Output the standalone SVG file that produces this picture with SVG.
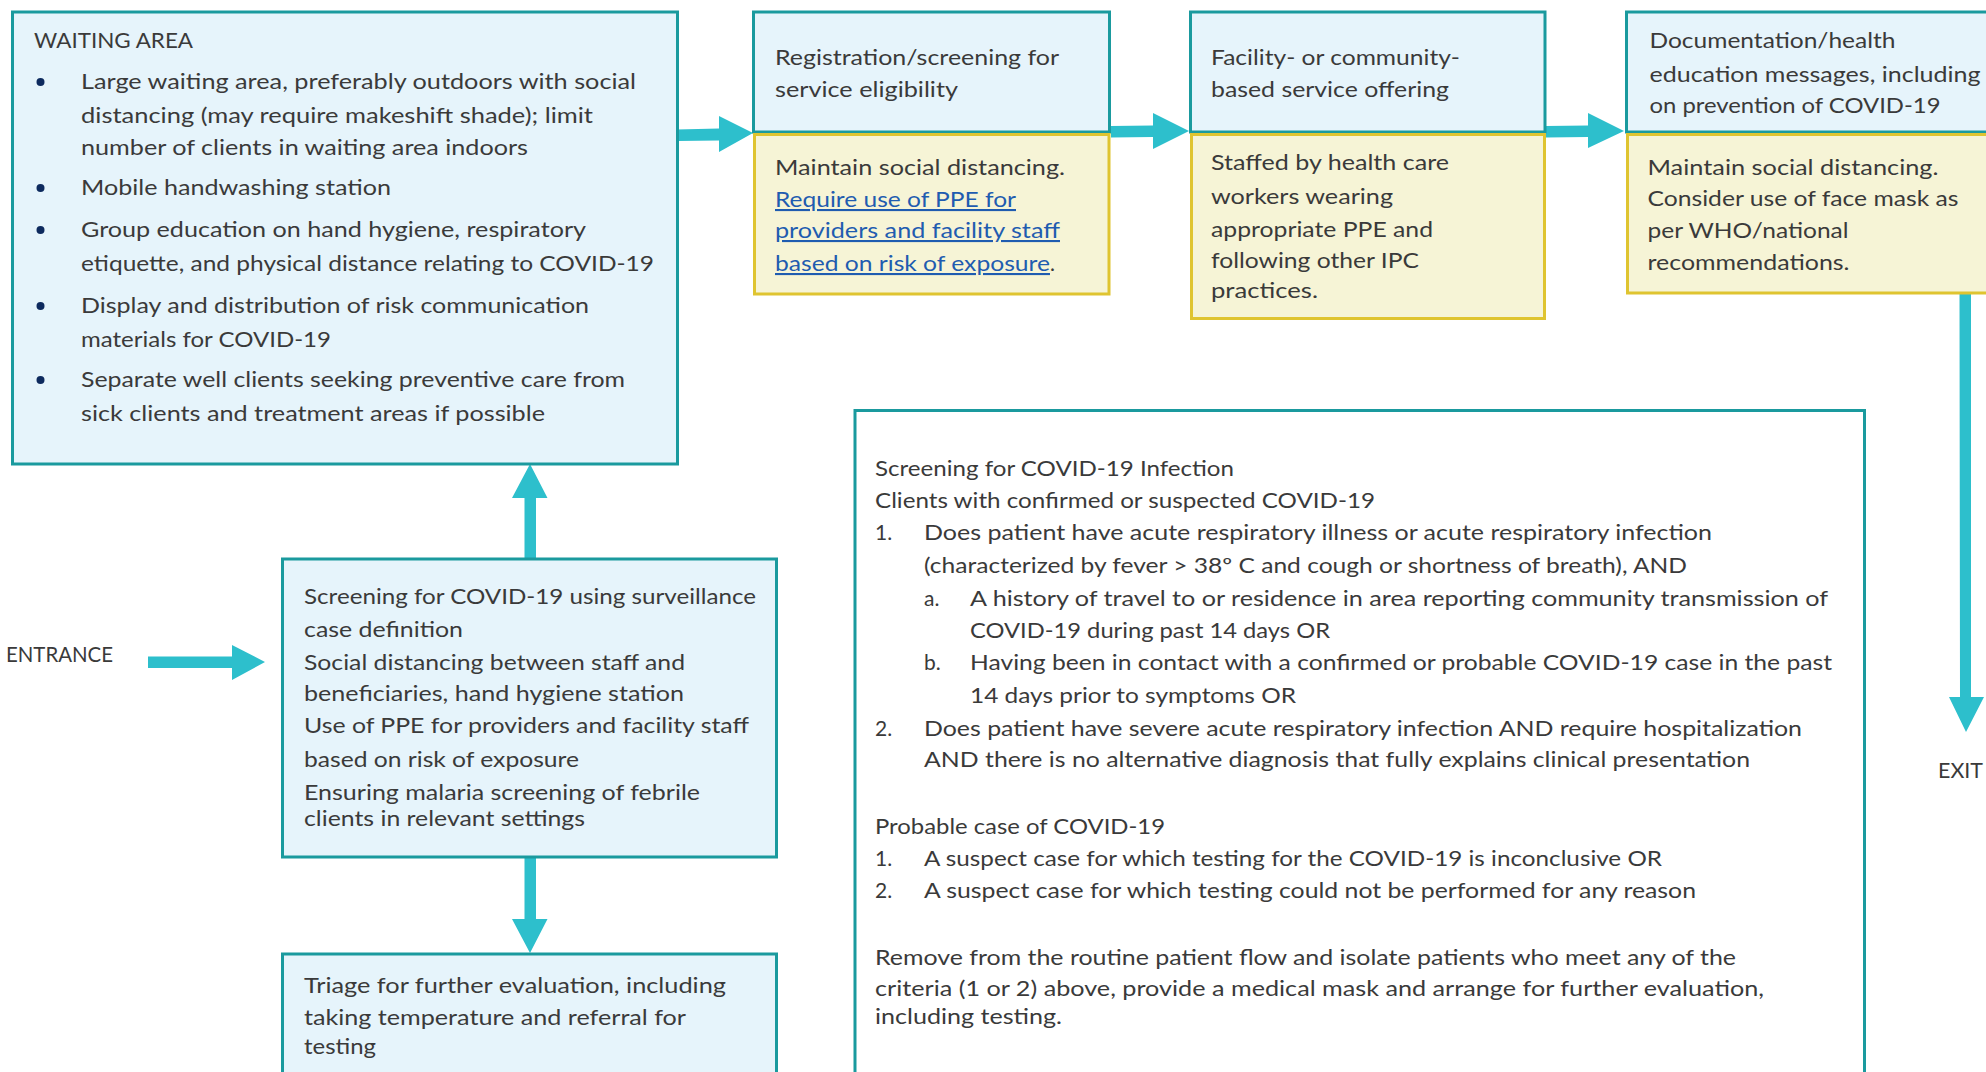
<svg xmlns="http://www.w3.org/2000/svg" width="1986" height="1072" viewBox="0 0 1986 1072">
<style>
.t{font-family:Lato,"Open Sans","Liberation Sans",sans-serif;font-size:21px;fill:#3a3a3a}
.lk{fill:#1f5cb0;text-decoration:underline}
.box{fill:#e6f4fb;stroke:#1a9a9e;stroke-width:3}
.wbox{fill:#ffffff;stroke:#1a9a9e;stroke-width:3}
.ybox{fill:#f6f4d6;stroke:#dfc430;stroke-width:3}
.arr{fill:#2dbfcc}
.bul{fill:#0d2a5e}
</style>
<rect width="1986" height="1072" fill="#ffffff"/>

<g id="connectors">
<polygon class="arr" points="677,129.5 719,128.5 719,116 753,133 719,152 719,140.5 677,141"/>
<polygon class="arr" points="1111,126 1153,125.5 1153,113 1189,131 1153,149 1153,137 1111,137.5"/>
<polygon class="arr" points="1546,126 1588,125.5 1588,113 1624,131 1588,148 1588,137 1546,137.5"/>
<polygon class="arr" points="1959.5,294 1971,294 1971,697 1984,697 1966,732 1949,697 1960,697"/>
<polygon class="arr" points="148,656.5 232,656.5 232,645 265,662 232,680 232,668 148,668"/>
<polygon class="arr" points="524.5,558 524.5,498 512,498 530,464 547.5,498 536,498 536,558"/>
<polygon class="arr" points="524.5,857 524.5,919 512,919 530,953 547.5,919 536,919 536,857"/>
</g>

<g id="waiting-area">
<rect class="box" x="12.5" y="12" width="665" height="452"/>
<text class="t" x="34" y="48" textLength="159" lengthAdjust="spacingAndGlyphs">WAITING AREA</text>
<circle class="bul" cx="40.5" cy="82" r="4"/>
<circle class="bul" cx="40.5" cy="188" r="4"/>
<circle class="bul" cx="40.5" cy="230" r="4"/>
<circle class="bul" cx="40.5" cy="306" r="4"/>
<circle class="bul" cx="40.5" cy="380" r="4"/>
<text class="t" x="81" y="89" textLength="555" lengthAdjust="spacingAndGlyphs">Large waiting area, preferably outdoors with social</text>
<text class="t" x="81" y="123" textLength="512" lengthAdjust="spacingAndGlyphs">distancing (may require makeshift shade); limit</text>
<text class="t" x="81" y="155" textLength="447" lengthAdjust="spacingAndGlyphs">number of clients in waiting area indoors</text>
<text class="t" x="81" y="195" textLength="310" lengthAdjust="spacingAndGlyphs">Mobile handwashing station</text>
<text class="t" x="81" y="237" textLength="505" lengthAdjust="spacingAndGlyphs">Group education on hand hygiene, respiratory</text>
<text class="t" x="81" y="271" textLength="573" lengthAdjust="spacingAndGlyphs">etiquette,  and physical distance relating to COVID-19</text>
<text class="t" x="81" y="313" textLength="508" lengthAdjust="spacingAndGlyphs">Display and distribution of risk communication</text>
<text class="t" x="81" y="347" textLength="250" lengthAdjust="spacingAndGlyphs">materials for COVID-19</text>
<text class="t" x="81" y="387" textLength="544" lengthAdjust="spacingAndGlyphs">Separate well clients seeking preventive care from</text>
<text class="t" x="81" y="421" textLength="464" lengthAdjust="spacingAndGlyphs">sick clients and treatment areas if possible</text>
</g>

<g id="registration">
<rect class="box" x="753.5" y="12" width="356" height="120"/>
<rect class="ybox" x="754.5" y="134.5" width="354.5" height="159.5"/>
<text class="t" x="775" y="65" textLength="284" lengthAdjust="spacingAndGlyphs">Registration/screening for</text>
<text class="t" x="775" y="97" textLength="183" lengthAdjust="spacingAndGlyphs">service eligibility</text>
<text class="t" x="775" y="175" textLength="290" lengthAdjust="spacingAndGlyphs">Maintain social distancing.</text>
<text class="t lk" x="775" y="207" textLength="241" lengthAdjust="spacingAndGlyphs">Require use of PPE for</text>
<text class="t lk" x="775" y="238" textLength="285" lengthAdjust="spacingAndGlyphs">providers and facility staff</text>
<text class="t lk" x="775" y="271" textLength="275" lengthAdjust="spacingAndGlyphs">based on risk of exposure</text>
<text class="t" x="1050" y="271">.</text>
</g>

<g id="service-offering">
<rect class="box" x="1190.5" y="12" width="354.5" height="120"/>
<rect class="ybox" x="1191.5" y="134.5" width="353" height="184"/>
<text class="t" x="1211" y="65" textLength="249" lengthAdjust="spacingAndGlyphs">Facility- or community-</text>
<text class="t" x="1211" y="97" textLength="238" lengthAdjust="spacingAndGlyphs">based service offering</text>
<text class="t" x="1211" y="170" textLength="238" lengthAdjust="spacingAndGlyphs">Staffed by health care</text>
<text class="t" x="1211" y="204" textLength="182" lengthAdjust="spacingAndGlyphs">workers wearing</text>
<text class="t" x="1211" y="237" textLength="222" lengthAdjust="spacingAndGlyphs">appropriate PPE and</text>
<text class="t" x="1211" y="268" textLength="208" lengthAdjust="spacingAndGlyphs">following other IPC</text>
<text class="t" x="1211" y="298" textLength="107" lengthAdjust="spacingAndGlyphs">practices.</text>
</g>

<g id="documentation">
<rect class="box" x="1626.5" y="12" width="400" height="120"/>
<rect class="ybox" x="1627.5" y="134.5" width="400" height="158.5"/>
<text class="t" x="1649.5" y="48" textLength="246" lengthAdjust="spacingAndGlyphs">Documentation/health</text>
<text class="t" x="1649.5" y="82" textLength="331" lengthAdjust="spacingAndGlyphs">education messages, including</text>
<text class="t" x="1649.5" y="113" textLength="291" lengthAdjust="spacingAndGlyphs">on prevention of COVID-19</text>
<text class="t" x="1647.5" y="175" textLength="291" lengthAdjust="spacingAndGlyphs">Maintain social distancing.</text>
<text class="t" x="1647.5" y="206" textLength="311" lengthAdjust="spacingAndGlyphs">Consider use of face mask as</text>
<text class="t" x="1647.5" y="238" textLength="201" lengthAdjust="spacingAndGlyphs">per WHO/national</text>
<text class="t" x="1647.5" y="270" textLength="202" lengthAdjust="spacingAndGlyphs">recommendations.</text>
</g>

<g id="exit">
<text class="t" x="1938" y="778" textLength="45" lengthAdjust="spacingAndGlyphs">EXIT</text>
</g>

<g id="entrance">
<text class="t" x="6" y="662" textLength="107" lengthAdjust="spacingAndGlyphs">ENTRANCE</text>
</g>

<g id="screening">
<rect class="box" x="282.5" y="559" width="494" height="298"/>
<text class="t" x="304" y="603.5" textLength="452" lengthAdjust="spacingAndGlyphs">Screening for COVID-19 using surveillance</text>
<text class="t" x="304" y="636.5" textLength="159" lengthAdjust="spacingAndGlyphs">case definition</text>
<text class="t" x="304" y="669.5" textLength="381" lengthAdjust="spacingAndGlyphs">Social distancing between  staff and</text>
<text class="t" x="304" y="701" textLength="380" lengthAdjust="spacingAndGlyphs">beneficiaries, hand hygiene station</text>
<text class="t" x="304" y="733" textLength="445" lengthAdjust="spacingAndGlyphs">Use of  PPE for providers and facility staff</text>
<text class="t" x="304" y="767" textLength="275" lengthAdjust="spacingAndGlyphs">based on risk of exposure</text>
<text class="t" x="304" y="799.5" textLength="396" lengthAdjust="spacingAndGlyphs">Ensuring malaria screening of febrile</text>
<text class="t" x="304" y="826" textLength="281" lengthAdjust="spacingAndGlyphs">clients in relevant settings</text>
</g>

<g id="triage">
<rect class="box" x="282.5" y="954" width="494" height="140"/>
<text class="t" x="304" y="993" textLength="422" lengthAdjust="spacingAndGlyphs">Triage for further  evaluation, including</text>
<text class="t" x="304" y="1025" textLength="382" lengthAdjust="spacingAndGlyphs">taking temperature  and referral for</text>
<text class="t" x="304" y="1054" textLength="72" lengthAdjust="spacingAndGlyphs">testing</text>
</g>

<g id="screening-criteria">
<rect class="wbox" x="855" y="410.5" width="1009.5" height="700"/>
<text class="t" x="875" y="476" textLength="359" lengthAdjust="spacingAndGlyphs">Screening for COVID-19 Infection</text>
<text class="t" x="875" y="508" textLength="500" lengthAdjust="spacingAndGlyphs">Clients with confirmed or suspected COVID-19</text>
<text class="t" x="875" y="540">1.</text>
<text class="t" x="924" y="540" textLength="788" lengthAdjust="spacingAndGlyphs">Does patient have acute respiratory illness or acute respiratory infection</text>
<text class="t" x="924" y="573" textLength="763" lengthAdjust="spacingAndGlyphs">(characterized by fever &gt; 38º C and cough or shortness of breath), AND</text>
<text class="t" x="924" y="606">a.</text>
<text class="t" x="970" y="606" textLength="858" lengthAdjust="spacingAndGlyphs">A history of travel to or residence in area reporting community transmission of</text>
<text class="t" x="970" y="638" textLength="360" lengthAdjust="spacingAndGlyphs">COVID-19 during past 14 days OR</text>
<text class="t" x="924" y="670">b.</text>
<text class="t" x="970" y="670" textLength="862" lengthAdjust="spacingAndGlyphs">Having been in contact with a confirmed or probable COVID-19 case in the past</text>
<text class="t" x="970" y="703" textLength="326" lengthAdjust="spacingAndGlyphs">14 days prior to symptoms OR</text>
<text class="t" x="875" y="736">2.</text>
<text class="t" x="924" y="736" textLength="878" lengthAdjust="spacingAndGlyphs">Does patient have severe acute respiratory infection AND require hospitalization</text>
<text class="t" x="924" y="767" textLength="826" lengthAdjust="spacingAndGlyphs">AND  there is no alternative diagnosis that fully explains clinical presentation</text>
<text class="t" x="875" y="834" textLength="290" lengthAdjust="spacingAndGlyphs">Probable case of COVID-19</text>
<text class="t" x="875" y="866">1.</text>
<text class="t" x="924" y="866" textLength="738" lengthAdjust="spacingAndGlyphs">A suspect case for which testing for the COVID-19 is inconclusive OR</text>
<text class="t" x="875" y="898">2.</text>
<text class="t" x="924" y="898" textLength="772" lengthAdjust="spacingAndGlyphs">A suspect case for which testing could not be performed  for any reason</text>
<text class="t" x="875" y="965" textLength="861" lengthAdjust="spacingAndGlyphs">Remove  from the routine patient flow and isolate patients who meet  any of the</text>
<text class="t" x="875" y="996" textLength="889" lengthAdjust="spacingAndGlyphs">criteria (1 or 2) above, provide a medical mask and arrange for further  evaluation,</text>
<text class="t" x="875" y="1024" textLength="187" lengthAdjust="spacingAndGlyphs">including testing.</text>
</g>
</svg>
